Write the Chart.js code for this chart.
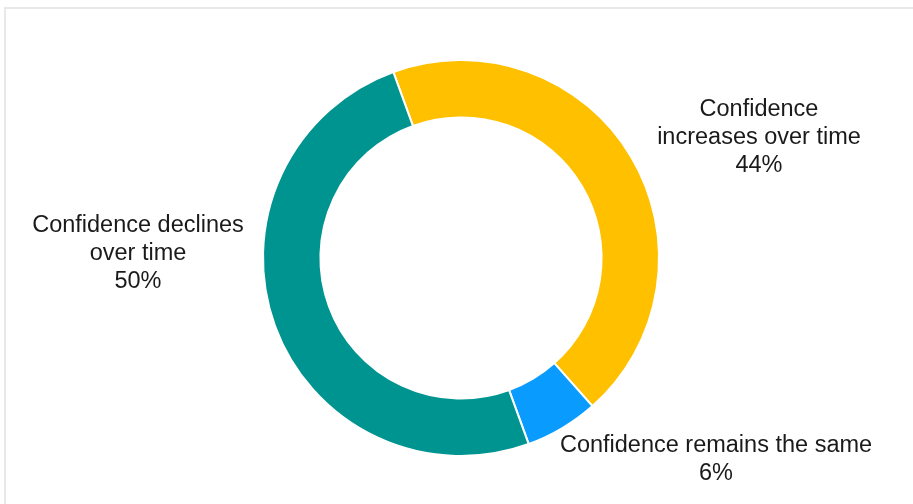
<!DOCTYPE html>
<html lang="en">
<head>
  <meta charset="UTF-8">
  <title>confidence</title>
  <script src="https://cdn.jsdelivr.net/npm/chart.js@4"></script>
  <style>
    html,body{margin:0;padding:0;background:#fff;}
    .frame{position:absolute;left:4px;top:7px;width:909px;height:497px;border-top:2px solid #e8e8e8;border-left:2px solid #e8e8e8;}
    .chartBox{position:absolute;left:0;top:0;width:913px;height:504px;}
  </style>
</head>
<body>
  <div class="frame"></div>
  <div class="chartBox">
    <canvas id="myChart"></canvas>
  </div>
  <script>
    // data
    const categories = ['Confidence increases over time', 'Confidence remains the same', 'Confidence declines over time'];
    const shares = [44, 6, 50];
    const colors = ['#FFC000', '#0A9BFF', '#009490'];

    // label lines per slice (text only)
    const labelLines = [
      ['Confidence', 'increases over time'],
      ['Confidence remains the same'],
      ['Confidence declines', 'over time']
    ];
    // where each label block sits, relative to the ring centre: [dx, first baseline dy]
    const labelPos = [[298, -142], [255, 194], [-323, -26]];

    const sliceLabels = {
      id: 'sliceLabels',
      afterDraw(chart){
        const { ctx } = chart;
        const meta = chart.getDatasetMeta(0);
        const cx = meta.data[0].x, cy = meta.data[0].y;
        ctx.save();
        ctx.fillStyle = '#1a1a1a';
        ctx.font = '23.5px "Liberation Sans", Arial, sans-serif';
        ctx.textAlign = 'center';
        ctx.textBaseline = 'alphabetic';
        labelLines.forEach((lines, i) => {
          const [dx, dy] = labelPos[i];
          const all = lines.concat([shares[i] + '%']);
          all.forEach((t, j) => ctx.fillText(t, cx + dx, cy + dy + j * 28));
        });
        ctx.restore();
      }
    };

    const config = {
      type: 'doughnut',
      data: {
        labels: categories,
        datasets: [{
          data: shares,
          backgroundColor: colors,
          borderColor: '#ffffff',
          borderWidth: 2
        }]
      },
      options: {
        responsive: true,
        maintainAspectRatio: false,
        animation: false,
        rotation: -20,
        cutout: '71%',
        layout: { padding: { left: 262, right: 253, top: 58, bottom: 46 } },
        plugins: {
          legend: { display: false },
          tooltip: { enabled: false }
        }
      },
      plugins: [sliceLabels]
    };

    new Chart(document.getElementById('myChart'), config);
  </script>
</body>
</html>
